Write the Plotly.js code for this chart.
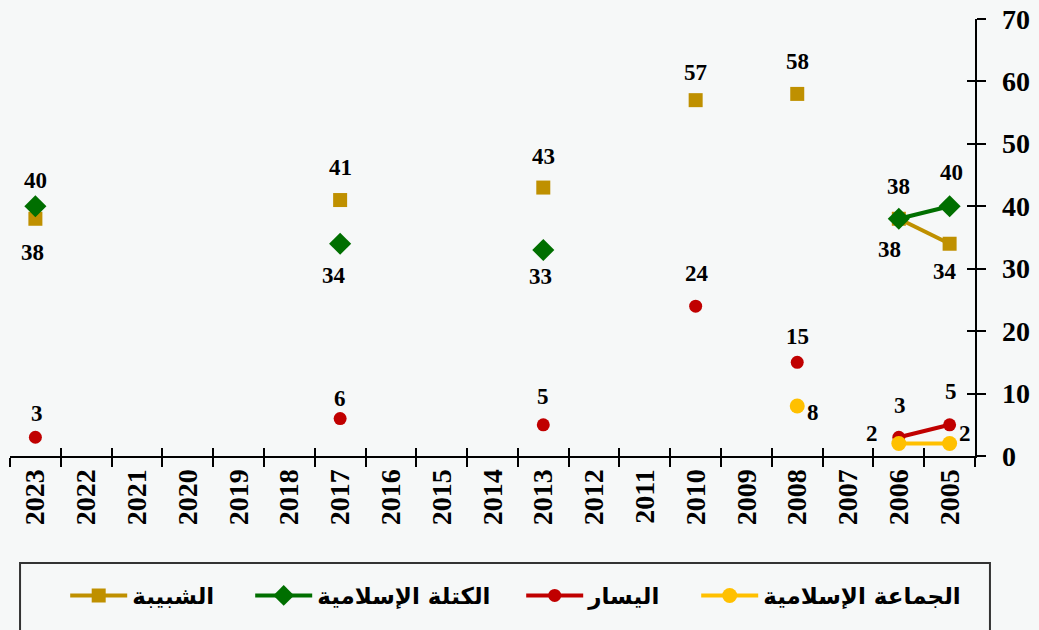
<!DOCTYPE html>
<html><head><meta charset="utf-8">
<script src="https://cdn.plot.ly/plotly-3.0.1.min.js"></script>
<style>html,body{margin:0;padding:0;background:#f6f8f8;}#chart{width:1039px;height:630px;}</style>
</head><body><div id="chart"></div>
<script>
const years = ["2023","2022","2021","2020","2019","2018","2017","2016","2015","2014","2013","2012","2011","2010","2009","2008","2007","2006","2005"];
const shabiba = [38,null,null,null,null,null,41,null,null,null,43,null,null,57,null,58,null,38,34];
const kutla   = [40,null,null,null,null,null,34,null,null,null,33,null,null,null,null,null,null,38,40];
const yasar   = [3,null,null,null,null,null,6,null,null,null,5,null,null,24,null,15,null,3,5];
const jamaa   = [null,null,null,null,null,null,null,null,null,null,null,null,null,null,null,8,null,2,2];
const names = ["الشبيبة","الكتلة الإسلامية","اليسار","الجماعة الإسلامية"];
const yTicks = [0,10,20,30,40,50,60,70];

// label offsets in pixels [dx, dy(up positive)] per non-null point, in order of appearance
const shabibaOff = [[-3,-34],[0,33],[0,31],[0,28],[0,32],[-9,-31],[-5,-28]];
const kutlaOff   = [[0,26],[-6,-32],[-3,-27],[0,32],[2,34]];
const yasarOff   = [[2,24],[0,20],[0,28],[1,33],[0,26],[1,32],[1,33]];
const jamaaOff   = [[16,-6],[-27,10],[15,10]];

const colors = ["#bf9000","#006f00","#c00000","#ffc000"];
const symbols = ["square","diamond","circle","circle"];
const sizes = [14,17,13,15];
const series = [shabiba,kutla,yasar,jamaa];
const offs = [shabibaOff,kutlaOff,yasarOff,jamaaOff];
const legendWidths = [113,199,103,210];

const lblFont = {family:"Liberation Serif, Times New Roman, serif", size:23, color:"#000", weight:"bold"};
const axFont = {family:"Liberation Serif, Times New Roman, serif", size:28, color:"#000", weight:"bold"};

const data = series.map((y,k)=>({
  x: years, y: y, name: names[k], type:"scatter", mode:"lines+markers",
  connectgaps:false, line:{color:colors[k], width:4},
  marker:{color:colors[k], symbol:symbols[k], size:sizes[k]},
  cliponaxis:false, legendwidth: legendWidths[k]
}));
const bounds = years.map((_,i)=> i-0.5).concat([years.length-0.5]);
// helper (invisible) trace so the overlay axes used for the crossing ticks get drawn
data.push({x:[bounds[0]], y:[yTicks[0]], xaxis:"x2", yaxis:"y2", type:"scatter", mode:"none", showlegend:false, hoverinfo:"skip"});

const annotations = [];
series.forEach((y,k)=>{
  let j = 0;
  y.forEach((v,i)=>{
    if(v===null) return;
    const o = offs[k][j++] || [0,25];
    annotations.push({x: i, y: v, xref:"x", yref:"y", text: String(v), showarrow:false,
      xshift:o[0], yshift:o[1], font: lblFont, xanchor:"center", yanchor:"middle"});
  });
});
// y-axis tick labels placed on the y scale, right of the axis
yTicks.forEach(t=>{
  annotations.push({x:1, xref:"paper", y:t, yref:"y", text:String(t), showarrow:false,
    xanchor:"left", yanchor:"middle", xshift:25, font: axFont});
});

const layout = {
  width:1039, height:630,
  paper_bgcolor:"#f6f8f8", plot_bgcolor:"#f6f8f8",
  margin:{l:10, r:64, t:19, b:174},
  showlegend:true,
  annotations: annotations,
  xaxis:{type:"category", categoryorder:"array", categoryarray:years, range:[-0.5, years.length-0.5],
    tickson:"boundaries", ticks:"outside", ticklen:9, tickwidth:2, tickcolor:"#000",
    showline:true, linecolor:"#000", linewidth:2, showgrid:false, zeroline:false,
    tickangle:-90, tickfont:axFont, fixedrange:true},
  xaxis2:{overlaying:"x", anchor:"y2", type:"linear", range:[-0.5, years.length-0.5],
    tickmode:"array", tickvals:bounds, ticks:"inside", ticklen:8, tickwidth:2, tickcolor:"#000",
    showticklabels:false, showline:false, showgrid:false, zeroline:false, side:"bottom"},
  yaxis:{side:"right", range:[0,70], tickmode:"array", tickvals:yTicks, ticks:"outside", ticklen:9, tickwidth:2,
    tickcolor:"#000", showline:true, linecolor:"#000", linewidth:2, showgrid:false, zeroline:false,
    showticklabels:false},
  yaxis2:{overlaying:"y", anchor:"x2", side:"right", range:[0,70], tickmode:"array", tickvals:yTicks,
    ticks:"inside", ticklen:8, tickwidth:2, tickcolor:"#000", showticklabels:false, showline:false,
    showgrid:false, zeroline:false},
  legend:{orientation:"h", x:0.0572, xanchor:"left", y:-0.27, yanchor:"top", itemwidth:57,
    bgcolor:"rgba(0,0,0,0)", borderwidth:0,
    font:{family:"DejaVu Sans, sans-serif", size:23, color:"#000", weight:"bold"}},
  shapes:[{type:"rect", xref:"paper", yref:"paper", x0:0.0104, x1:1.0155, y0:-0.2449, y1:-0.6,
    line:{color:"#333", width:2}, fillcolor:"rgba(0,0,0,0)", layer:"below"}]
};
Plotly.newPlot("chart", data, layout, {displayModeBar:false, staticPlot:true});
</script></body></html>
